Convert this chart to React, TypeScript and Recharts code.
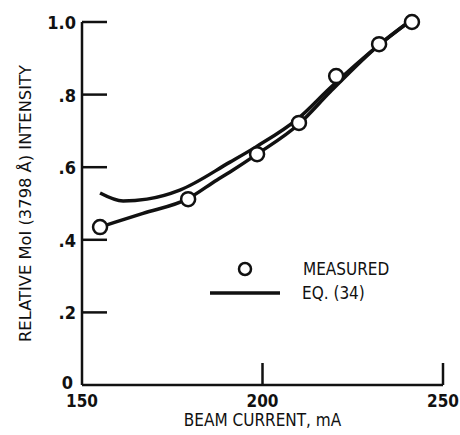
import React from 'react';
import { ComposedChart, Line, Scatter, XAxis, YAxis, Legend } from 'recharts';

// ─── Data ──────────────────────────────────────────────────────────────────────
const X_TICKS = [150, 200, 250];
const Y_TICKS = [0, 0.2, 0.4, 0.6, 0.8, 1.0];
const Y_TICK_LABELS = ['0', '.2', '.4', '.6', '.8', '1.0'];

// measured points (circles)
const measuredCurrent = [155, 179.4, 198.5, 210.1, 220.4, 232.3, 241.4];
const measuredIntensity = [0.435, 0.512, 0.636, 0.722, 0.851, 0.939, 1.0];

// faired curve through the measured points
const fairCurrent = [155, 166.9, 179.1, 187.4, 191, 198.5, 210.1, 218.7, 232.3, 240.5];
const fairIntensity = [0.435, 0.473, 0.512, 0.565, 0.587, 0.636, 0.719, 0.807, 0.937, 1.0];

// EQ. (34)
const eqCurrent = [155, 161.4, 168, 177.1, 191, 198.2, 210.1, 218.7, 232.3, 240.5];
const eqIntensity = [0.529, 0.507, 0.512, 0.537, 0.614, 0.656, 0.736, 0.818, 0.937, 1.0];

const measured = measuredCurrent.map((x, i) => ({ x, y: measuredIntensity[i] }));
const fair = fairCurrent.map((x, i) => ({ x, y: fairIntensity[i] }));
const eq34 = eqCurrent.map((x, i) => ({ x, y: eqIntensity[i] }));

const FONT = "'DejaVu Sans', sans-serif";
const TXT: React.CSSProperties = { fontStretch: 'condensed' };
const INK = '#111';

// ─── Custom ticks (drawn inward like the original) ─────────────────────────────

const YTick = ({ x, y, payload }: any) => {
    const i = Y_TICKS.indexOf(payload.value);
    const isZero = payload.value === 0;
    return (
        <g>
            {!isZero && <line x1={x} x2={x + 25} y1={y} y2={y} stroke={INK} strokeWidth={2.5} />}
            <text x={isZero ? x - 9 : x - 6} y={isZero ? y + 4 : y + 7} textAnchor="end"
                fontFamily={FONT} fontSize={18} fontWeight="bold" fill={INK} style={TXT}>
                {Y_TICK_LABELS[i]}
            </text>
        </g>
    );
};

const XTick = ({ x, y, payload }: any) => (
    <g>
        {payload.value !== 150 && <line x1={x} x2={x} y1={y} y2={y - 22} stroke={INK} strokeWidth={2.5} />}
        <text x={x} y={y + 22} textAnchor="middle" fontFamily={FONT} fontSize={17} fontWeight="bold"
            fill={INK} style={TXT}>
            {payload.value}
        </text>
    </g>
);

const YLabel = ({ viewBox }: any) => {
    const cx = viewBox.x + 25;
    const cy = viewBox.y + viewBox.height / 2;
    return (
        <text x={cx} y={cy} transform={`rotate(-90 ${cx} ${cy})`} textAnchor="middle" dominantBaseline="central"
            fontFamily={FONT} fontSize={16} fill={INK} style={TXT} textLength={277} lengthAdjust="spacingAndGlyphs">
            RELATIVE MoI (3798 Å) INTENSITY
        </text>
    );
};

const XLabel = ({ viewBox }: any) => (
    <text x={viewBox.x + viewBox.width / 2} y={viewBox.y + 41} textAnchor="middle"
        fontFamily={FONT} fontSize={17} fill={INK} style={TXT}>
        BEAM CURRENT,  mA
    </text>
);

const Circle = ({ cx, cy }: any) => (
    <circle cx={cx} cy={cy} r={7} fill="#fff" stroke={INK} strokeWidth={2.5} />
);

const LegendBox = () => (
    <svg width={230} height={52} style={{ display: 'block' }}>
        <circle cx={45} cy={14} r={6} fill="#fff" stroke={INK} strokeWidth={2.5} />
        <text x={103} y={20} fontFamily={FONT} fontSize={17} fill={INK} style={TXT}>MEASURED</text>
        <line x1={10} x2={80} y1={38} y2={38} stroke={INK} strokeWidth={3.5} />
        <text x={102} y={44} fontFamily={FONT} fontSize={17} fill={INK} style={TXT}>EQ. (34)</text>
    </svg>
);

// ─── Main component ────────────────────────────────────────────────────────────

export default function App() {
    return (
        <div style={{ position: 'absolute', left: 0, top: 0, background: '#fff' }}>
            <ComposedChart width={460} height={435} margin={{ top: 22, right: 17, left: 0, bottom: 0 }}>
                <XAxis type="number" dataKey="x" domain={[150, 250]} ticks={X_TICKS}
                    height={50} tickSize={0} tickMargin={0}
                    axisLine={{ stroke: INK, strokeWidth: 2.5 }} tickLine={false} tick={<XTick />}
                    label={<XLabel />} />
                <YAxis type="number" dataKey="y" domain={[0, 1]} ticks={Y_TICKS}
                    width={82} tickSize={0} tickMargin={0}
                    axisLine={{ stroke: INK, strokeWidth: 2.5 }} tickLine={false} tick={<YTick />}
                    label={<YLabel />} />
                <Legend layout="horizontal" verticalAlign="middle" align="center" content={<LegendBox />}
                    wrapperStyle={{ left: 200, top: 255, width: 230 }} />
                <Line data={eq34} dataKey="y" type="monotone" stroke={INK} strokeWidth={3.5}
                    dot={false} activeDot={false} isAnimationActive={false} legendType="none" />
                <Line data={fair} dataKey="y" type="monotone" stroke={INK} strokeWidth={3.5}
                    dot={false} activeDot={false} isAnimationActive={false} legendType="none" />
                <Scatter data={measured} dataKey="y" shape={<Circle />} isAnimationActive={false} legendType="none" />
            </ComposedChart>
        </div>
    );
}
